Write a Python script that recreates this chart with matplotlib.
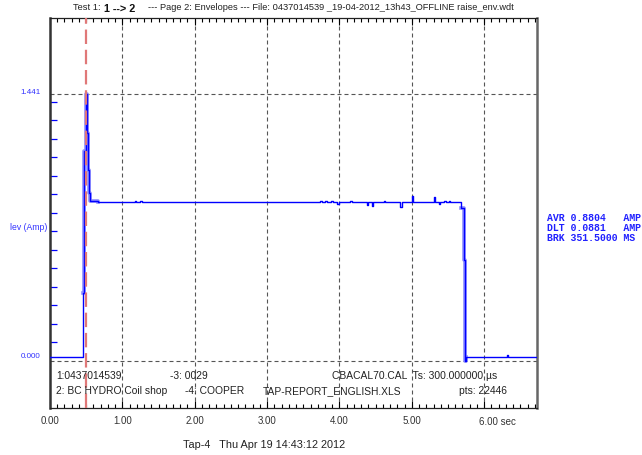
import matplotlib
matplotlib.use("Agg")
import matplotlib.pyplot as plt
import numpy as np

plt.rcParams["font.family"] = ["Liberation Sans", "DejaVu Sans"]

# step trace of lev (Amp) vs time (sec), value holds until next time
trace_t = [0.00, 0.455, 0.474, 0.494, 0.516, 0.530, 0.543, 0.553, 0.664,
           1.18, 1.19, 1.25, 1.27, 3.73, 3.76, 3.80, 3.83, 3.88, 3.91,
           3.97, 3.99, 4.15, 4.18, 4.38, 4.40, 4.45, 4.47, 4.61, 4.63,
           4.84, 4.86, 5.00, 5.02, 5.30, 5.32, 5.37, 5.39, 5.44, 5.47,
           5.51, 5.53, 5.68, 5.715, 5.74, 5.75, 6.32, 6.33, 6.73]
trace_v = [0.018, 0.366, 1.136, 1.441, 1.231, 1.031, 0.907, 0.865, 0.857,
           0.863, 0.857, 0.863, 0.857, 0.862, 0.857, 0.862, 0.857, 0.862, 0.857,
           0.846, 0.857, 0.862, 0.857, 0.844, 0.857, 0.838, 0.857, 0.862, 0.857,
           0.833, 0.857, 0.891, 0.857, 0.884, 0.857, 0.848, 0.857, 0.862, 0.857,
           0.862, 0.857, 0.826, 0.545, 0.000, 0.018, 0.031, 0.018, 0.018]

peak = 1.441
brk_time = 0.498
x_ticks = [0, 1, 2, 3, 4, 5, 6]
x_labels = ["0.00", "1.00", "2.00", "3.00", "4.00", "5.00", ""]
last_label = "6.00 sec"

info_row1 = [("1:0437014539", 56), ("-3: 0029", 170), ("CBACAL70.CAL  Ts: 300.000000 µs", 332)]
info_row2 = [("2: BC HYDRO Coil shop", 56), ("-4: COOPER", 185), ("TAP-REPORT_ENGLISH.XLS", 263),
             ("pts: 22446", 459)]
results = ["AVR 0.8804   AMP", "DLT 0.0881   AMP", "BRK 351.5000 MS"]

W, H = 642, 455
fig = plt.figure(figsize=(W / 100, H / 100), dpi=100)
ax = fig.add_axes([50 / W, 1 - 408 / H, 487 / W, 390 / H])

t = np.array(trace_t)
v = np.array(trace_v)

# lighter envelope around the fast transients
for lo, hi in [(0.44, 0.664), (5.67, 5.75)]:
    m = (t >= lo) & (t <= hi)
    ax.step(t[m], v[m], where="post", color="#8c8cff", lw=2.6, zorder=2)
ax.step(t, v, where="post", color="#0000ff", lw=1.0, zorder=3)

ax.axvline(brk_time, color="#e07878", lw=1.6, dashes=(6.5, 2.6), zorder=4)

grid_kw = dict(color="#555555", lw=0.8, dashes=(3.6, 2.7), zorder=1)
for x in x_ticks[1:]:
    ax.axvline(x, **grid_kw)
ax.axhline(peak, **grid_kw)
ax.axhline(0.0, **grid_kw)

ax.set_xlim(0, 6.73)
ax.set_ylim(-0.256, 1.853)

ax.set_xticks(x_ticks)
ax.set_xticklabels(x_labels)
ax.set_xticks(np.arange(0, 6.75, 0.1), minor=True)
ax.tick_params(axis="x", which="major", direction="in", length=5, top=True, bottom=True,
               labelsize=7, labelcolor="#333333", pad=6, width=0.8)
ax.tick_params(axis="x", which="minor", direction="in", length=3, top=True, bottom=True, width=0.8)

ax.set_yticks(np.arange(0.1, 1.45, 0.1))
ax.set_yticklabels([])
ax.tick_params(axis="y", direction="in", length=5, color="#0000ff", left=True, right=False, width=0.9)

for side in ["left", "right"]:
    ax.spines[side].set_linewidth(1.8)
    ax.spines[side].set_color("#666666")
ax.spines["left"].set_color("#333333")
for side in ["top", "bottom"]:
    ax.spines[side].set_linewidth(0.9)
    ax.spines[side].set_color("#222222")


def px(x, y):
    return x / W, 1 - y / H


fig.text(*px(479, 422), last_label, fontsize=7, color="#333333", va="center", ha="left")

blue_txt = dict(color="#3030ff", fontsize=5.8, va="center")
fig.text(*px(41, 92), "1.441", ha="right", **blue_txt)
fig.text(*px(41, 357), "0.000", ha="right", **blue_txt)
fig.text(*px(10, 228), "lev (Amp)", ha="left", color="#3030ff", fontsize=6.2, va="center")

txt = dict(fontsize=7.4, color="#222222", va="center", ha="left")
for s, x in info_row1:
    fig.text(*px(x, 376), s, **txt)
for s, x in info_row2:
    fig.text(*px(x, 391), s, **txt)

fig.text(*px(73, 8), "Test 1:", fontsize=6.7, color="#222222", va="center", ha="left")
fig.text(*px(104, 9), "1 --> 2", fontsize=7.8, color="#111111", va="center", ha="left",
         fontweight="bold")
fig.text(*px(148, 8), "--- Page 2: Envelopes --- File: 0437014539 _19-04-2012_13h43_OFFLINE raise_env.wdt",
         fontsize=6.7, color="#222222", va="center", ha="left")

fig.text(*px(183, 445), "Tap-4   Thu Apr 19 14:43:12 2012", fontsize=7.8, color="#222222",
         va="center", ha="left")

for i, s in enumerate(results):
    fig.text(*px(547, 218 + 10 * i), s, family=["Liberation Mono", "DejaVu Sans Mono"],
             fontsize=7.1, color="#2020ff", va="center", ha="left", fontweight="bold")

fig.savefig("out.png", dpi=100)
